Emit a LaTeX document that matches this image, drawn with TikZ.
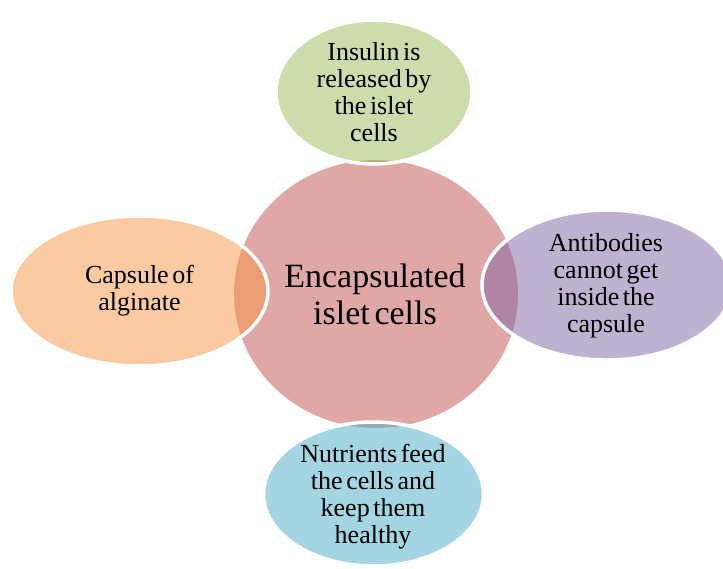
\documentclass[tikz,border=0pt]{standalone}
\usepackage{fontspec}
\setmainfont[WordSpace=0.55]{Liberation Serif}
\usepackage{xcolor}
\usetikzlibrary{shapes.geometric}
\definecolor{corered}{HTML}{C0504D}
\definecolor{topgreen}{HTML}{9BBB59}
\definecolor{leftorange}{HTML}{F79646}
\definecolor{rightpurple}{HTML}{8064A2}
\definecolor{bottomblue}{HTML}{4BACC6}
\begin{document}
\begin{tikzpicture}[x=1pt,y=-1pt,
  blob/.style={ellipse,inner sep=0pt,fill opacity=0.5,draw=white,draw opacity=1,line width=3.5pt},
  txt/.style={align=center,font=\fontsize{26}{27}\selectfont}]
  \clip (0,0) rectangle (723,568);
  \fill[white] (0,0) rectangle (723,568);
  \node[ellipse,inner sep=0pt,fill=corered,fill opacity=0.5,minimum width=284pt,minimum height=268pt] (core) at (376,294) {};
  \node[blob,fill=topgreen,minimum width=196pt,minimum height=144pt] (insulin) at (374,92) {};
  \node[blob,fill=leftorange,minimum width=257pt,minimum height=150pt] (capsule) at (139.5,291) {};
  \node[blob,fill=rightpurple,minimum width=250pt,minimum height=150pt] (antibody) at (607,285) {};
  \node[blob,fill=bottomblue,minimum width=220pt,minimum height=144pt] (nutrient) at (373.5,494) {};
  \node[align=center,font=\fontsize{34}{37}\selectfont] (coretxt) at (375,294) {Encapsulated\\islet cells};
  \node[txt] (insulintxt) at (insulin.center) {Insulin is\\released by\\the islet\\cells};
  \node[txt] (capsuletxt) at (capsule.center) {Capsule of\\alginate};
  \node[txt] (antibodytxt) at (606,286) {Antibodies\\cannot get\\inside the\\capsule};
  \node[txt] (nutrienttxt) at (373,497) {Nutrients feed\\the cells and\\keep them\\healthy};
\end{tikzpicture}
\end{document}
